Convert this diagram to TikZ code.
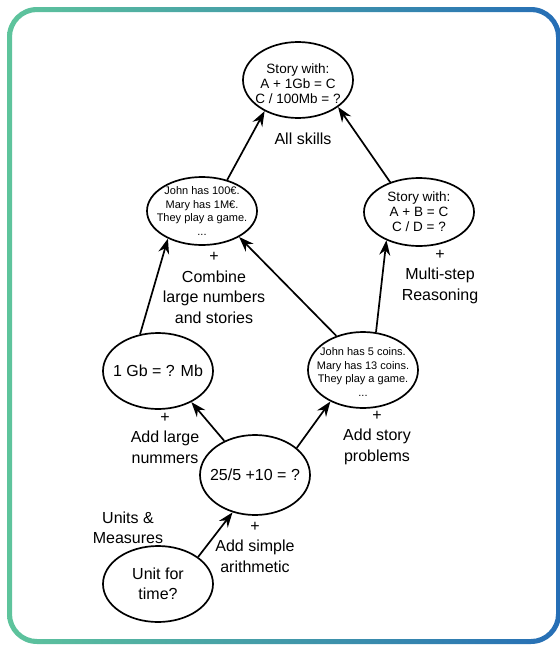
\documentclass[tikz,border=0pt]{standalone}
\usepackage{fontspec}
\setmainfont{Liberation Sans}
\usetikzlibrary{arrows.meta, shapes.geometric}

\definecolor{frameleft}{RGB}{94,196,156}
\definecolor{frameright}{RGB}{38,110,182}

\begin{document}
\begin{tikzpicture}[
    ->,
    >={Stealth[length=15pt, width=11pt, inset=5pt]},
    x=1pt, y=-1pt,
    skill/.style={draw, ellipse, line width=1.7pt, minimum width=110pt,
        minimum height=76pt, inner sep=0pt},
    big/.style={align=center, font=\fontsize{16}{20.5}\selectfont},
    mid/.style={align=center, font=\fontsize{13.5}{15}\selectfont},
    small/.style={align=center, font=\fontsize{11}{13.5}\selectfont},
]

    \useasboundingbox (0,0) rectangle (560,646);

    % frame
    \shade[left color=frameleft, right color=frameright, even odd rule, rounded corners=30pt]
        (7,7) rectangle (561,644) [rounded corners=25pt] (12,12) rectangle (556,639);

    \node[skill, label={[mid, yshift=-4pt]center:Story with:\\A + 1Gb = C\\C / 100Mb = ?}]
        (top) at (298,80) {};
    \node[skill, minimum height=68pt,
        label={[small]center:John has 100€.\\Mary has 1M€.\\They play a game.\\...}]
        (cmb) at (202,211) {};
    \node[skill, minimum height=68pt,
        label={[mid]center:Story with:\\A + B = C\\C / D = ?}]
        (multi) at (419,212) {};
    \node[skill, label={[big]center:1 Gb = ? Mb}] (gb) at (158,371) {};
    \node[skill, label={[small, yshift=-2pt]center:John has 5 coins.\\Mary has 13 coins.\\They play a game.\\...}]
        (coins) at (363,370) {};
    \node[skill, minimum height=80pt, label={[big]center:25/5 +10 = ?}] (arith) at (255,475) {};
    \node[skill, label={[big]center:Unit for\\time?}] (unit) at (158,584) {};

    \node[big] (allskills) at (303,139) {All skills};
    \node[big] (combine)   at (214,288) {+\\Combine\\large numbers\\and stories};
    \node[big] (reasoning) at (440,277) {+\\Multi-step\\Reasoning};
    \node[big] (large)     at (165,438) {+\\Add large\\nummers};
    \node[big] (story)     at (377,438) {+\\Add story\\problems};
    \node[big] (simple)    at (255,547) {+\\Add simple\\arithmetic};
    \node[big] (units)     at (128,528) {Units \&\\Measures};

    \path[line width=1.7pt]
        (unit.34)   edge (arith.239)
        (arith.132) edge (gb.317)
        (arith.33)  edge (coins.224)
        (gb.116)    edge (cmb.219)
        (coins.128) edge (cmb.325)
        (coins.71)  edge (multi.221)
        (cmb.51)    edge (top.223)
        (multi.134) edge (top.326)
    ;
\end{tikzpicture}
\end{document}
